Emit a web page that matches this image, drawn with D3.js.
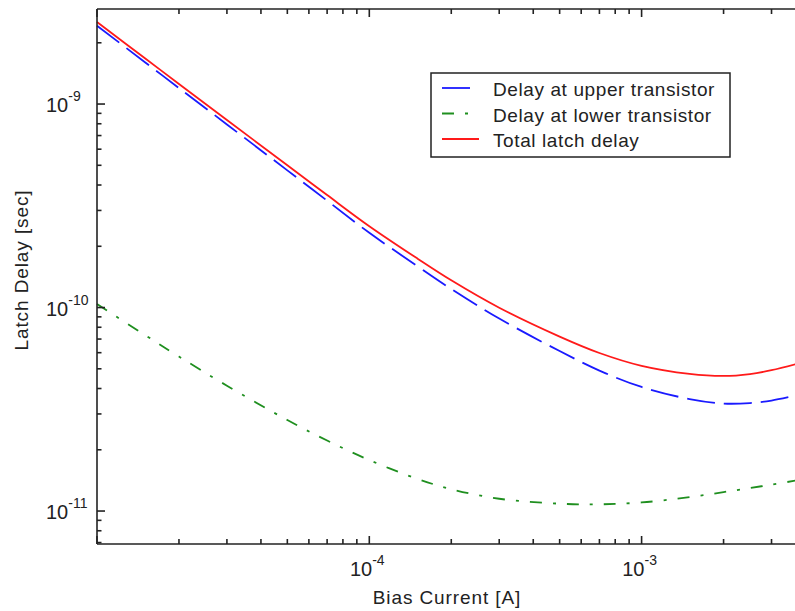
<!DOCTYPE html>
<html><head><meta charset="utf-8">
<script src="https://cdn.jsdelivr.net/npm/d3@7"></script>
<style>body{margin:0;background:#fff}svg{display:block}text{font-family:"Liberation Sans",Arial,sans-serif;fill:#222}</style>
</head><body><svg id="c" width="795" height="611"></svg>
<script>
// ---- data ----
const current = [1e-5,1.5e-5,2e-5,3e-5,5e-5,7e-5,1e-4,1.5e-4,2e-4,3e-4,5e-4,7e-4,1e-3,1.5e-3,2e-3,2.5e-3,3e-3,3.7e-3];
const upperDelay = [2.425e-9,1.606e-9,1.198e-9,7.94e-10,4.72e-10,3.35e-10,2.33e-10,1.599e-10,1.233e-10,8.83e-11,6.11e-11,4.90e-11,4.07e-11,3.55e-11,3.375e-11,3.394e-11,3.49e-11,3.70e-11];
const lowerDelay = [1.040e-10,7.33e-11,5.74e-11,4.13e-11,2.80e-11,2.22e-11,1.78e-11,1.44e-11,1.28e-11,1.149e-11,1.087e-11,1.079e-11,1.102e-11,1.170e-11,1.239e-11,1.297e-11,1.348e-11,1.413e-11];
const totalDelay = [2.529e-9,1.679e-9,1.255e-9,8.35e-10,5.00e-10,3.57e-10,2.51e-10,1.743e-10,1.361e-10,9.98e-11,7.20e-11,5.98e-11,5.17e-11,4.72e-11,4.61e-11,4.71e-11,4.92e-11,5.28e-11];
const seriesNames = ["Delay at upper transistor","Delay at lower transistor","Total latch delay"];
const xTickExponents = [-4,-3];
const yTickExponents = [-11,-10,-9];
const xLabel = "Bias Current [A]";
const yLabel = "Latch Delay [sec]";

// ---- layout ----
const L = 97, T = 9, B = 544;
const decX = 272.3;
const svg = d3.select("#c");
const x = d3.scaleLog().domain([1e-5, 1e-2]).range([L, L + 3 * decX]);
const y = d3.scaleLog().domain([Math.pow(10,-11.162), Math.pow(10,-8.533)]).range([B, T]);

const styles = [
  {data: upperDelay, color: "#1a1aff", dash: "28,9"},
  {data: lowerDelay, color: "#1f8f1f", dash: "12,11,3,11"},
  {data: totalDelay, color: "#ff1a1a", dash: null}
];

const plot = svg.append("g");
const line = d3.line().x(d => x(d[0])).y(d => y(d[1])).curve(d3.curveCatmullRom.alpha(0.5));
styles.forEach(s => {
  plot.append("path").datum(current.map((c, i) => [c, s.data[i]]))
    .attr("d", line).attr("fill", "none").attr("stroke", s.color)
    .attr("stroke-width", 1.8).attr("stroke-dasharray", s.dash);
});

// ---- axes ----
const axisColor = "#222";
const xt = x.ticks().filter(v => v >= 1e-5 && v <= 1e-2);
const yt = y.ticks();
const isMajor = v => Math.abs(Math.log10(v) - Math.round(Math.log10(v))) < 1e-6;
const ax = svg.append("g").attr("stroke", axisColor).attr("stroke-width", 1.6);
ax.append("line").attr("x1", L).attr("x2", 900).attr("y1", B).attr("y2", B);
ax.append("line").attr("x1", L).attr("x2", 900).attr("y1", T).attr("y2", T);
ax.append("line").attr("x1", L).attr("x2", L).attr("y1", T).attr("y2", B);
xt.forEach(v => {
  const len = isMajor(v) ? 8 : 5;
  ax.append("line").attr("x1", x(v)).attr("x2", x(v)).attr("y1", B).attr("y2", B - len);
  ax.append("line").attr("x1", x(v)).attr("x2", x(v)).attr("y1", T).attr("y2", T + len);
});
yt.forEach(v => {
  const len = isMajor(v) ? 8 : 4.5;
  ax.append("line").attr("x1", L).attr("x2", L + len).attr("y1", y(v)).attr("y2", y(v));
});

// tick labels
xTickExponents.forEach(e => {
  const t = svg.append("text").attr("x", x(Math.pow(10, e)) - 2).attr("y", 576)
    .attr("text-anchor", "middle").attr("font-size", 20);
  t.append("tspan").text("10");
  t.append("tspan").attr("dy", -11).attr("font-size", 14).text(String(e));
});
yTickExponents.forEach(e => {
  const t = svg.append("text").attr("x", 46).attr("y", y(Math.pow(10, e)) + 8)
    .attr("font-size", 20);
  t.append("tspan").text("10");
  t.append("tspan").attr("dy", -11).attr("font-size", 14).text(String(e));
});

// axis titles
svg.append("text").attr("x", 447).attr("y", 604).attr("text-anchor", "middle")
  .attr("font-size", 19).attr("letter-spacing", 0.9).text(xLabel);
svg.append("text").attr("transform", "translate(28,270) rotate(-90)")
  .attr("text-anchor", "middle").attr("font-size", 19).attr("letter-spacing", 0.9).text(yLabel);

// ---- legend ----
const lg = svg.append("g");
const lx = 431, ly = 73, lw = 299, lh = 84;
lg.append("rect").attr("x", lx).attr("y", ly).attr("width", lw).attr("height", lh)
  .attr("fill", "#fff").attr("stroke", axisColor).attr("stroke-width", 1.5);
const sampleLen = [30, 28, 37];
styles.forEach((s, i) => {
  const yy = 88 + i * 25.5;
  lg.append("line").attr("x1", 442).attr("x2", 442 + sampleLen[i]).attr("y1", yy).attr("y2", yy)
    .attr("stroke", s.color).attr("stroke-width", 1.8).attr("stroke-dasharray", s.dash);
  lg.append("text").attr("x", 493).attr("y", yy + 8).attr("font-size", 19)
    .attr("letter-spacing", 0.6).text(seriesNames[i]);
});
</script></body></html>
